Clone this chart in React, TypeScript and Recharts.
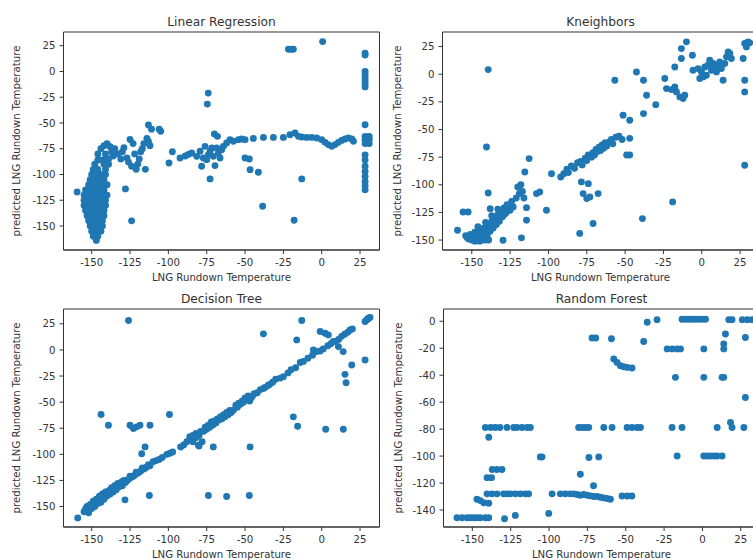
import React from 'react';
import { ScatterChart, Scatter, XAxis, YAxis, ReferenceArea } from 'recharts';

type Pt = [number, number];

// ---------- data ----------
const xTicks = [-150, -125, -100, -75, -50, -25, 0, 25];
const yTicksA = [-150, -125, -100, -75, -50, -25, 0, 25];
const yTicksRF = [-140, -120, -100, -80, -60, -40, -20, 0];

const linearRegression: Pt[] = [
  [-159.5, -117],
  [-146, -86], [-143, -86], [-140, -86],
  [-148, -90], [-142, -90], [-139, -90],
  [-149, -95], [-146, -95], [-141, -95],
  [-150, -100], [-147, -100], [-144, -100], [-141, -100],
  [-151, -105], [-148, -105], [-145, -105], [-142, -105],
  [-152, -110], [-149, -110], [-146, -110], [-143, -110], [-140, -110],
  [-154, -115], [-151, -115], [-148, -115], [-145, -115], [-142, -115],
  [-155, -120], [-152, -120], [-149, -120], [-146, -120], [-143, -120], [-140, -120],
  [-155, -125], [-152, -125], [-149, -125], [-146, -125], [-143, -125], [-141, -125],
  [-155, -130], [-152, -130], [-149, -130], [-146, -130], [-143, -130], [-141, -130],
  [-154, -135], [-151, -135], [-148, -135], [-145, -135], [-142, -135],
  [-153, -140], [-150, -140], [-147, -140], [-144, -140], [-142, -140],
  [-152, -145], [-149, -145], [-146, -145], [-143, -145],
  [-151, -150], [-148, -150], [-145, -150], [-143, -150],
  [-150, -155], [-147, -155], [-144, -155],
  [-149, -160], [-146, -160], [-147, -164],
  [-146, -80], [-144, -75], [-142, -72], [-140, -70], [-138, -73], [-137, -78], [-136, -82],
  [-141, -80], [-139, -85], [-135, -75], [-133, -80], [-131, -85], [-130, -78], [-129, -74],
  [-127, -84], [-126, -88], [-125, -66], [-123, -70], [-122, -80], [-124, -92], [-121, -95],
  [-120, -90], [-119, -85], [-118, -78], [-116, -70], [-115, -95], [-117, -75], [-114, -65],
  [-113, -68], [-112, -72], [-113, -52], [-111, -56], [-106, -56], [-105, -58],
  [-124, -145], [-128, -114],
  [-99.6, -88.8], [-97.4, -78], [-92.4, -84], [-89, -82], [-87, -80.5],
  [-84.8, -79.1], [-81.5, -82.4], [-79.3, -77.5], [-78.3, -92], [-77.2, -84], [-76.1, -72.7],
  [-75, -85.6], [-73.9, -80.7], [-72.8, -77.5], [-71.7, -74.3], [-70.7, -82.4], [-69.6, -91.4],
  [-68.5, -74.3], [-67.4, -79.1], [-66.3, -84], [-65.2, -75.9], [-64.1, -72.7], [-62, -69.4],
  [-59.8, -66.2], [-57.6, -67.8], [-54.3, -66.2], [-52.2, -65.6], [-50, -66.2],
  [-50, -84], [-47.2, -85], [-46.7, -95.3], [-41.3, -97.9],
  [-74, -21], [-74.6, -31.7], [-72.8, -104.3], [-70, -60.7], [-68, -63],
  [-44.6, -65], [-38, -64], [-31.5, -64], [-25, -64], [-20.7, -61.4], [-17.4, -59.8], [-15.2, -63],
  [-13, -63.6], [-9.8, -64], [-6.5, -64], [-3.3, -64.6], [0, -66.2], [2.2, -68.8], [4.3, -71],
  [6.5, -72.7], [8.7, -71], [10.9, -68.8], [13, -66.9], [15.2, -65.6], [17.4, -64.6], [19.6, -65.6],
  [20.7, -67.8],
  [-21.7, 21.6], [-20, 21.6], [-18.5, 21.6], [0.6, 29],
  [-13, -104.3], [-18, -144.4], [-38.5, -130.8],
  [28.3, 17.8], [28.3, 16], [28.3, 0], [28.3, -3], [28.3, -6], [28.3, -9], [28.3, -12], [28.3, -15],
  [28.3, -51.7], [28.3, -63], [28.3, -66], [28.3, -70], [28.3, -81], [28.3, -86], [28.3, -92],
  [28.3, -97], [28.3, -102], [28.3, -107], [28.3, -111], [28.3, -114.7],
  [31, -63], [31, -66], [31, -70],
];

const kNeighbors: Pt[] = [
  [-159.3, -141.2], [-155.7, -124.6], [-152.4, -124.6],
  [-154, -146], [-152, -149], [-151, -145], [-150, -150], [-149, -147], [-148, -143], [-147, -150],
  [-146, -146], [-145, -141], [-144, -148], [-143, -144], [-142, -139], [-141, -150], [-140, -146],
  [-139, -136], [-138, -142], [-137, -133], [-136, -139], [-135, -130], [-134, -136], [-133, -127],
  [-132, -133], [-131, -124], [-130, -129], [-129, -121], [-128, -126], [-127, -118], [-125, -123],
  [-124, -115], [-123, -120], [-121, -112], [-120, -102], [-119, -108], [-118, -100], [-117, -106],
  [-116, -112], [-145, -151], [-148, -151], [-143, -150], [-139, -150], [-150, -146], [-146, -138],
  [-141, -134], [-137, -128], [-133, -122],
  [-153, -148], [-149, -150], [-147, -146], [-145, -147], [-143, -141], [-141, -143], [-139, -140],
  [-137, -137], [-135, -134], [-133, -131], [-131, -129], [-129, -127], [-127, -124],
  [-139.3, 4.2], [-140.4, -65.8], [-139.3, -107.4], [-138, -121.6], [-129.6, -150.2],
  [-117.6, -148], [-114.3, -120.7], [-114.3, -132], [-115.4, -88.4], [-112.6, -76.3],
  [-107.8, -108], [-105.7, -106.5], [-101.3, -123], [-98, -90],
  [-92, -93], [-90, -90], [-88, -86], [-87, -89], [-85, -83], [-83, -85], [-81, -80], [-79, -79],
  [-78, -82], [-76, -76], [-75, -78], [-74, -73], [-72, -75], [-71, -71], [-70, -73], [-69, -68],
  [-68, -70], [-67, -66], [-66, -69], [-65, -64], [-64, -67], [-63, -62], [-62, -65], [-60, -61],
  [-59, -59], [-58, -63], [-56, -57], [-54, -56], [-52, -59],
  [-78.5, -97.4], [-77.4, -108], [-74, -99], [-75, -112.5], [-73, -111], [-67.6, -108],
  [-79.6, -144], [-70.9, -135], [-56.7, -5.4], [-51.3, -37], [-47, -41.6], [-47, -58],
  [-49, -73], [-47, -73], [-42.6, 2], [-38, -5.4], [-36, -19], [-38, -35.6], [-38.7, -130.6],
  [-30, -27.5],
  [-24.1, -3.9], [-23, -13], [-19.8, -13.9], [-17.6, -11.5], [-16.5, -16], [-14.3, -20.5],
  [-12.2, -22], [-11.1, -19], [-19, -115.5],
  [-17.6, 6.6], [-13.3, 23.2], [-10, 29.3], [-13.3, 14.2], [-6.1, 17.2],
  [-5.7, 3.6], [-2.4, 5.1], [-0.2, 2.1], [2, 6.6], [3, -0.9], [4.1, 8.1], [5.2, 12.7], [6.3, 3.6],
  [7.4, 9.7], [8.5, 6.6], [9.6, 2.1], [10.7, 8.1], [11.7, 11.2], [12.8, 5.1], [13.9, -5.4],
  [15, 9.7], [16.1, 15.7], [18.3, 18.7], [19.3, 14.2], [17.2, 20.2], [-1.3, -3.9], [0.9, -2.4],
  [28, 27.8], [30.2, 29.3], [29.1, 24.7], [31.3, 28.4], [27, 14.2], [28, -5.4], [28, -16],
  [28, -82.4],
];

const decisionTree: Pt[] = [
  [-159.1, -160.9],
  [-155, -155], [-153, -150], [-152, -156], [-151, -148], [-150, -152], [-149, -145], [-148, -150],
  [-147, -143], [-146, -147], [-145, -140], [-144, -146], [-143, -138], [-142, -143], [-141, -136],
  [-140, -140], [-139, -135], [-138, -138], [-137, -132], [-136, -136], [-135, -130], [-134, -134],
  [-133, -128], [-132, -131], [-131, -127], [-130, -130], [-129, -125], [-128, -127], [-126, -124],
  [-124, -122], [-122, -120], [-120, -118], [-118, -116], [-116, -114], [-114, -112], [-112, -111],
  [-154, -152], [-152, -151], [-150, -148], [-148, -146], [-146, -143], [-144, -141], [-142, -140],
  [-140, -137], [-138, -134], [-136, -133], [-134, -131], [-132, -128], [-130, -126], [-127, -125],
  [-125, -121], [-123, -121], [-121, -117], [-119, -117], [-117, -113], [-115, -113], [-113, -110],
  [-110, -107], [-108, -106], [-106, -105], [-104, -103], [-101, -100], [-99, -99], [-92, -93],
  [-90, -91], [-88, -88], [-86, -86], [-86, -83], [-84, -82], [-82, -80], [-79, -78], [-76, -74],
  [-74, -72], [-72, -69], [-70, -68], [-68, -66], [-66, -64], [-64, -62], [-62, -60], [-60, -58],
  [-56, -53], [-54, -51], [-52, -49], [-50, -46], [-48, -44], [-46, -46], [-44, -42],
  [-84, -88], [-82, -84], [-80, -92], [-80, -82], [-78, -88], [-77, -78], [-75, -76], [-73, -74],
  [-71, -72], [-69, -70], [-67, -67], [-65, -66], [-63, -64], [-61, -62], [-59, -60], [-57.6, -57.7],
  [-55, -55], [-53, -52], [-51, -50], [-49, -47], [-47, -49], [-45, -44], [-42, -41], [-40, -38],
  [-38, -37], [-37, -36], [-35, -34], [-34, -33], [-32, -31], [-30, -28], [-27, -27], [-25, -25.6],
  [-22, -22], [-20, -19], [-17, -17], [-14, -12], [-12, -11], [-9, -8], [-6, -5], [-3.3, -1.6],
  [-1, -1], [1, 1], [4, 4], [6, 6], [9, 8], [11, 10], [13, 13], [15, 15], [17, 17], [18.5, 19.2],
  [20, 20],
  [-5.4, 0], [-1, 17.6], [2.2, 16], [4.3, 14.4], [7.6, 8], [10.9, 3.2], [14, -1.6],
  [15.2, -23.4], [15.9, -31.4], [19.6, -14.4], [28.3, -9.6],
  [29.3, 28.8], [30.4, 30.4], [31.5, 31], [28.3, 27.2], [30, 29.5],
  [-126, 28.2], [-143.9, -61.9], [-139.1, -72.1], [-125, -72.1], [-122.8, -75.3], [-120.7, -73.7],
  [-118.5, -72.1], [-115.2, -92.9], [-117.4, -99.4], [-112, -72.1], [-112.4, -139.4],
  [-128.3, -143.6], [-99.3, -61.9], [-97.2, -97.8], [-70.7, -92.9], [-73.9, -139.4],
  [-62, -140.4], [-47.2, -139.4], [-46.7, -92.9], [-38, 15.4], [-18.5, -64.1], [-15.7, -73.1],
  [-16.3, 9.6], [-13, 28.2], [2.6, -76], [14.1, -76], [-80.4, -91.3],
];

const randomForest: Pt[] = [
  [-141.5, -78.8], [-138, -78.8], [-135, -78.8], [-132, -78.8], [-127.4, -78.8], [-123, -78.8],
  [-120.9, -78.8], [-117.6, -78.8], [-114.3, -78.8], [-112.2, -78.8],
  [-139.3, -86],
  [-137, -110], [-134, -110], [-130.7, -110], [-140.4, -116], [-137.5, -116],
  [-147, -132], [-144.8, -133], [-142.6, -134.6], [-139.3, -135],
  [-140.4, -128], [-137.2, -128], [-133.9, -128], [-129.6, -128], [-127.4, -128], [-125.2, -128],
  [-121.9, -128], [-118.7, -128], [-115.4, -128], [-113.3, -128],
  [-160, -145.7], [-156.7, -145.7], [-153.5, -145.7], [-151.3, -145.7], [-149.1, -145.7],
  [-147, -145.7], [-144.8, -145.7], [-141.5, -145.7], [-139.3, -145.7],
  [-129, -146.5], [-122, -144],
  [-105.7, -100.6], [-104.6, -100.6], [-100.2, -142.5], [-98, -128],
  [-92.6, -128], [-89.3, -128], [-86.1, -128], [-83.9, -128], [-81.7, -128.5], [-79.6, -129],
  [-77.4, -128.5], [-75.2, -129], [-73, -129.5], [-70.9, -130], [-68.7, -130], [-66.5, -130.5],
  [-64.3, -131], [-62.2, -131.5], [-60, -132],
  [-79.6, -113.5], [-71, -122], [-74, -101], [-67.6, -100.6],
  [-52.4, -129.6], [-49, -129.6], [-46, -129.6],
  [-80.7, -78.8], [-78.5, -78.8], [-76.3, -78.8], [-74.1, -78.8], [-64.3, -78.8], [-58.9, -78.8],
  [-49.1, -78.8], [-45.9, -78.8], [-42.6, -78.8], [-40.4, -78.8],
  [-72, -12.4], [-69.6, -12.4], [-59.3, -13],
  [-57.8, -28], [-55.7, -30.5], [-53.5, -33], [-51.3, -33.7], [-49, -34.2], [-45.9, -34.7],
  [-38.3, -15], [-36, -0.7], [-29.6, 1.2],
  [-19.8, -78.8], [-13.3, -78.8],
  [-23, -20.5], [-19.8, -20.5], [-16.5, -20.5], [-14.3, -20.5],
  [-17.6, -41.6], [-16.5, -99.9],
  [-13.3, 1.5], [-11, 1.5], [-8.9, 1.5], [-6.7, 1.5], [-4.6, 1.5], [-2.4, 1.5], [-0.2, 1.5], [2, 1.5],
  [0.9, -41.6], [0.9, -20.5],
  [0.9, -99.9], [3, -99.9], [5.2, -99.9], [7.4, -99.9], [9.6, -99.9], [12.8, -99.9],
  [12.8, -41.6], [13.9, -41.6],
  [13.9, -20.5], [13.9, -16.9], [15, -9.4],
  [17.2, 1.2], [19.3, 1.2],
  [9.6, -78.8], [18.3, -75], [19.3, -78.8], [27, -78.8], [28, -56.5], [28, -12],
  [26, 1.2], [29.3, 1.2], [32.4, 1.2],
];

// ---------- panels ----------
type Panel = {
  title: string;
  points: Pt[];
  left: number; // plot-area left (px)
  top: number; // plot-area top (px)
  xDomain: [number, number];
  yDomain: [number, number];
  yTicks: number[];
  yLabelOffset: number;
};

const panels: Panel[] = [
  { title: 'Linear Regression', points: linearRegression, left: 63.5, top: 32, xDomain: [-168.4, 37.7], yDomain: [-173.3, 38.3], yTicks: yTicksA, yLabelOffset: 16 },
  { title: 'Kneighbors', points: kNeighbors, left: 442.5, top: 32, xDomain: [-169.1, 37.0], yDomain: [-159, 38.2], yTicks: yTicksA, yLabelOffset: 18 },
  { title: 'Decision Tree', points: decisionTree, left: 63.5, top: 308.5, xDomain: [-168.4, 37.7], yDomain: [-169.6, 39.2], yTicks: yTicksA, yLabelOffset: 16 },
  { title: 'Random Forest', points: randomForest, left: 443, top: 308.5, xDomain: [-168.8, 37.2], yDomain: [-152.6, 9.1], yTicks: yTicksRF, yLabelOffset: 18 },
];

const Y_AXIS_W = 63.5;
const PLOT_W = 316;
const PLOT_H = 218;
const X_AXIS_H = 31;
const MARGIN_TOP = 32;
const MARGIN_BOTTOM = 6;
const FONT = '"DejaVu Sans", sans-serif';
const INK = '#333';
const BLUE = '#1f77b4';

const Dot = (props: any) => {
  const { cx, cy } = props;
  if (cx == null || cy == null) return <g />;
  return <circle cx={cx} cy={cy} r={3.45} fill={BLUE} />;
};

function PanelChart({ p }: { p: Panel }) {
  const data = p.points.map(([x, y]) => ({ x, y }));
  const chartW = Y_AXIS_W + PLOT_W + 2;
  const chartH = MARGIN_TOP + PLOT_H + X_AXIS_H + MARGIN_BOTTOM;
  return (
    <div style={{ position: 'absolute', left: p.left - Y_AXIS_W, top: p.top - MARGIN_TOP }}>
      <ScatterChart
        width={chartW}
        height={chartH}
        margin={{ top: MARGIN_TOP, right: 2, bottom: MARGIN_BOTTOM, left: 0 }}
        style={{ fontFamily: FONT }}
      >
        <XAxis
          type="number"
          dataKey="x"
          domain={p.xDomain}
          ticks={xTicks}
          allowDataOverflow
          height={X_AXIS_H}
          tickSize={4}
          tickMargin={4.5}
          stroke={INK}
          tick={{ fill: INK, fontSize: 10.2, fontFamily: FONT }}
          tickLine={{ stroke: INK }}
          axisLine={{ stroke: INK }}
          label={{ value: 'LNG Rundown Temperature', position: 'insideBottom', offset: 0, fill: INK, fontSize: 10.2, fontFamily: FONT }}
        />
        <YAxis
          type="number"
          dataKey="y"
          domain={p.yDomain}
          ticks={p.yTicks}
          allowDataOverflow
          width={Y_AXIS_W}
          tickSize={4}
          tickMargin={4}
          stroke={INK}
          tick={{ fill: INK, fontSize: 10.2, fontFamily: FONT }}
          tickLine={{ stroke: INK }}
          axisLine={{ stroke: INK }}
          label={{
            value: 'predicted LNG Rundown Temperature',
            angle: -90,
            position: 'insideLeft',
            offset: p.yLabelOffset,
            fill: INK,
            fontSize: 10.2,
            fontFamily: FONT,
            style: { textAnchor: 'middle' },
          }}
        />
        <ReferenceArea
          x1={p.xDomain[0]}
          x2={p.xDomain[1]}
          y1={p.yDomain[0]}
          y2={p.yDomain[1]}
          fill="none"
          fillOpacity={0}
          stroke={INK}
          strokeWidth={1}
          strokeOpacity={1}
          label={{ value: p.title, position: 'top', offset: 6.5, fill: INK, fontSize: 12.2, fontFamily: FONT }}
        />
        <Scatter data={data} fill={BLUE} shape={Dot} isAnimationActive={false} />
      </ScatterChart>
    </div>
  );
}

export default function App() {
  return (
    <div
      style={{
        position: 'absolute',
        left: 0,
        top: 0,
        width: 753,
        height: 560,
        overflow: 'hidden',
        background: '#fff',
      }}
    >
      {panels.map((p) => (
        <PanelChart key={p.title} p={p} />
      ))}
    </div>
  );
}
